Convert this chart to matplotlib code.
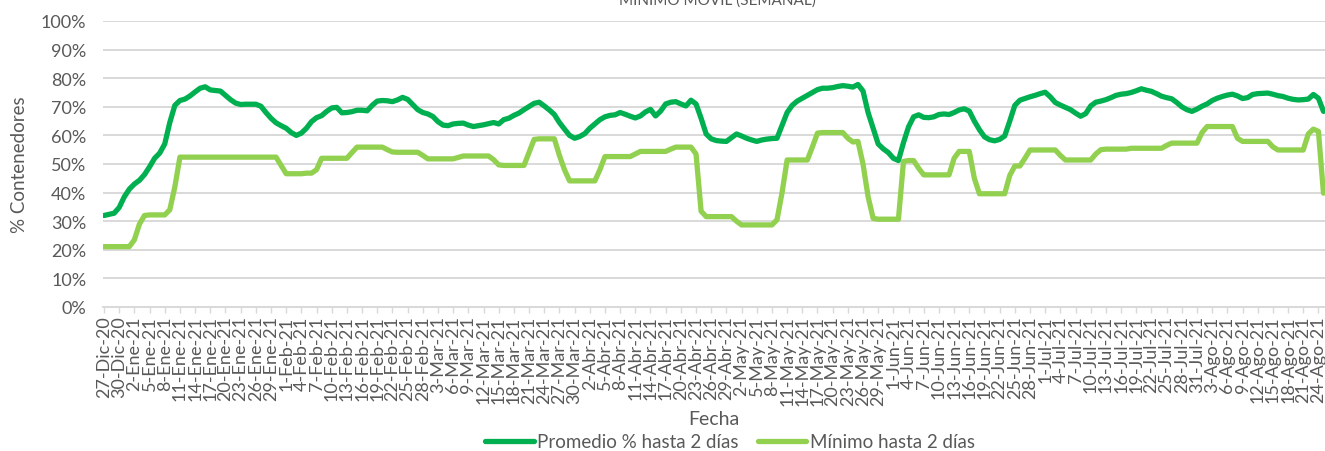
import numpy as np
import pandas as pd
import matplotlib.pyplot as plt

plt.rcParams['font.family'] = ['Lato', 'DejaVu Sans']

# valores diarios desde el 27-Dic-20
promedio = [
    32.0, 32.4, 32.8, 34.8, 38.5, 41.2, 43.0, 44.3, 46.3, 49.0,
    52.0, 53.8, 57.0, 64.5, 70.5, 72.2, 72.7, 73.8, 75.2, 76.5,
    77.0, 75.9, 75.7, 75.5, 74.0, 72.5, 71.3, 70.8, 70.9, 70.9,
    70.9, 70.2, 68.0, 66.0, 64.4, 63.4, 62.5, 61.0, 60.0, 60.8,
    62.5, 64.8, 66.2, 66.9, 68.4, 69.6, 69.8, 67.9, 68.0, 68.3,
    68.8, 68.8, 68.6, 70.5, 72.0, 72.2, 72.1, 71.8, 72.4, 73.3,
    72.6, 70.8, 69.0, 68.0, 67.5, 66.6, 64.8, 63.6, 63.4, 64.0,
    64.2, 64.3, 63.6, 63.1, 63.4, 63.7, 64.1, 64.5, 64.0, 65.5,
    66.0, 67.0, 67.8, 69.0, 70.1, 71.2, 71.6, 70.3, 68.9, 67.3,
    64.5, 62.2, 60.0, 59.0, 59.6, 60.6, 62.5, 64.0, 65.5, 66.5,
    67.0, 67.2, 68.0, 67.4, 66.7, 66.1, 66.8, 68.2, 69.1, 66.8,
    68.5, 71.0, 71.6, 71.8, 71.0, 70.3, 72.3, 71.0, 66.0, 60.5,
    58.8, 58.2, 58.0, 57.9, 59.2, 60.5, 59.8, 59.0, 58.4, 57.9,
    58.4, 58.7, 58.9, 59.0, 63.5, 68.0, 70.5, 72.0, 73.0, 74.0,
    75.0, 76.0, 76.5, 76.5, 76.7, 77.1, 77.4, 77.2, 76.9, 77.8,
    75.5, 68.0, 62.5, 57.0, 55.3, 54.0, 52.0, 51.2, 57.5, 63.0,
    66.5, 67.2, 66.3, 66.2, 66.5, 67.3, 67.5, 67.3, 68.0, 68.9,
    69.3, 68.5, 65.0, 62.0, 59.5, 58.5, 58.1, 58.6, 59.8, 65.0,
    70.5, 72.3, 72.9, 73.5, 74.0, 74.6, 75.1, 73.5, 71.5, 70.6,
    69.8, 69.0, 67.8, 66.7, 67.6, 70.3, 71.6, 72.0, 72.5, 73.2,
    74.0, 74.4, 74.6, 75.0, 75.6, 76.3, 75.8, 75.4, 74.6, 73.7,
    73.2, 72.8, 71.5, 70.0, 69.0, 68.4, 69.2, 70.2, 71.0, 72.2,
    73.0, 73.6, 74.1, 74.4, 73.8, 72.9, 73.2, 74.3, 74.6, 74.7,
    74.8, 74.4, 73.9, 73.6, 73.0, 72.6, 72.4, 72.5, 72.7, 74.3,
    73.0, 68.4,
]

minimo = [
    21.1, 21.1, 21.1, 21.1, 21.1, 21.1, 23.5, 29.0, 32.0, 32.2,
    32.2, 32.2, 32.2, 34.0, 42.0, 52.4, 52.4, 52.4, 52.4, 52.4,
    52.4, 52.4, 52.4, 52.4, 52.4, 52.4, 52.4, 52.4, 52.4, 52.4,
    52.4, 52.4, 52.4, 52.4, 52.4, 49.5, 46.6, 46.6, 46.6, 46.6,
    46.8, 46.8, 48.0, 52.0, 52.0, 52.0, 52.0, 52.0, 52.0, 54.0,
    55.9, 55.9, 55.9, 55.9, 55.9, 55.9, 55.0, 54.2, 54.1, 54.1,
    54.1, 54.1, 54.1, 53.0, 51.8, 51.8, 51.8, 51.8, 51.8, 51.8,
    52.3, 52.8, 52.8, 52.8, 52.8, 52.8, 52.8, 51.5, 49.7, 49.5,
    49.5, 49.5, 49.5, 49.5, 54.0, 58.6, 58.8, 58.8, 58.8, 58.8,
    53.0, 48.0, 44.1, 44.1, 44.1, 44.1, 44.1, 44.1, 48.0, 52.6,
    52.6, 52.6, 52.6, 52.6, 52.6, 53.5, 54.4, 54.4, 54.4, 54.4,
    54.4, 54.4, 55.2, 55.9, 55.9, 55.9, 55.9, 53.5, 33.5, 31.6,
    31.6, 31.6, 31.6, 31.6, 31.6, 30.0, 28.7, 28.7, 28.7, 28.7,
    28.7, 28.7, 28.7, 30.5, 40.0, 51.4, 51.4, 51.4, 51.4, 51.4,
    56.0, 60.8, 61.0, 61.0, 61.0, 61.0, 61.0, 59.0, 57.7, 57.9,
    50.0, 38.6, 31.0, 30.7, 30.7, 30.7, 30.7, 30.7, 50.9, 51.2,
    51.2, 48.5, 46.2, 46.2, 46.2, 46.2, 46.2, 46.2, 52.0, 54.4,
    54.4, 54.4, 45.0, 39.6, 39.6, 39.6, 39.6, 39.6, 39.6, 46.0,
    49.3, 49.3, 52.0, 54.9, 54.9, 54.9, 54.9, 54.9, 54.9, 53.0,
    51.4, 51.4, 51.4, 51.4, 51.4, 51.4, 53.5, 55.0, 55.2, 55.2,
    55.2, 55.2, 55.2, 55.5, 55.5, 55.5, 55.5, 55.5, 55.5, 55.5,
    56.5, 57.3, 57.3, 57.3, 57.3, 57.3, 57.3, 61.0, 63.1, 63.1,
    63.1, 63.1, 63.1, 63.1, 59.0, 57.9, 57.9, 57.9, 57.9, 57.9,
    57.9, 56.0, 54.9, 54.9, 54.9, 54.9, 54.9, 54.9, 60.5, 62.2,
    61.4, 39.8,
]

meses = ['Ene', 'Feb', 'Mar', 'Abr', 'May', 'Jun',
         'Jul', 'Ago', 'Sep', 'Oct', 'Nov', 'Dic']

fechas = pd.date_range('2020-12-27', periods=len(promedio), freq='D')
x = np.arange(len(promedio))

gris = '#595959'
rejilla = '#d9d9d9'

fig = plt.figure(figsize=(13.25, 4.52), dpi=100)
ax = fig.add_axes([103 / 1325, 1 - 308 / 452, 1222 / 1325, 286 / 452])

ax.plot(x, promedio, color='#00b050', lw=3.8, solid_capstyle='round',
        solid_joinstyle='round', label='Promedio % hasta 2 días')
ax.plot(x, minimo, color='#92d050', lw=3.8, solid_capstyle='round',
        solid_joinstyle='round', label='Mínimo hasta 2 días')

ax.set_xlim(-0.2, len(promedio) - 0.7)
ax.set_ylim(0, 100)
ax.set_yticks(np.arange(0, 101, 10))
ax.set_yticklabels([f'{v}%' for v in range(0, 101, 10)])
ax.yaxis.grid(True, color=rejilla, lw=1.4)
ax.set_axisbelow(True)

pos = x[::3]
ax.set_xticks(pos)
ax.set_xticklabels([f'{f.day}-{meses[f.month - 1]}-{f.year % 100}' for f in fechas[::3]],
                   rotation=90, va='top', ha='center')

for s in ['top', 'right', 'left']:
    ax.spines[s].set_visible(False)
ax.spines['bottom'].set_color(rejilla)
ax.spines['bottom'].set_linewidth(1.4)

ax.tick_params(axis='y', length=0, pad=12, labelsize=13, labelcolor=gris)
ax.tick_params(axis='x', length=4, width=1, color=rejilla, pad=2,
               labelsize=13, labelcolor=gris)

fig.text(20 / 1325, 1 - 165 / 452, '% Contenedores', rotation=90,
         ha='center', va='center', fontsize=13.5, color=gris)
fig.text(714 / 1325, 1 - 420 / 452, 'Fecha', ha='center', va='center',
         fontsize=14, color=gris)
fig.text(717 / 1325, 1 - 5 / 452, 'MÍNIMO MÓVIL (SEMANAL)', ha='center',
         va='baseline', fontsize=11, color=gris)

fig.legend(loc='center', bbox_to_anchor=(730 / 1325, 1 - 443 / 452), ncol=2,
           frameon=False, fontsize=13.5, handlelength=2.6, handletextpad=0.2,
           columnspacing=1.0, labelcolor=gris)

fig.savefig('out.png', dpi=100)
